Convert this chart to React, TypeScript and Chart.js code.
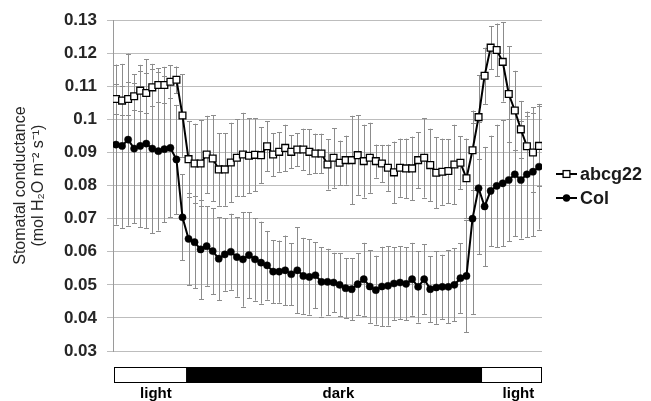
import { useEffect, useRef } from 'react';
import { Chart, registerables } from 'chart.js';

Chart.register(...registerables);

const FONT = '"Liberation Sans", Arial, Helvetica, sans-serif';

const seriesNames = ['abcg22', 'Col'];

const abcg22 = [
  0.1062, 0.1057, 0.1062, 0.107, 0.1087, 0.108, 0.1097, 0.1104, 0.1104, 0.1114,
  0.112, 0.1012, 0.088, 0.0867, 0.0867, 0.0894, 0.0882, 0.0849, 0.0849, 0.087,
  0.0884, 0.0894, 0.089, 0.0893, 0.0892, 0.0919, 0.0894, 0.0902, 0.0914, 0.0902,
  0.0909, 0.0909, 0.0902, 0.0897, 0.0897, 0.0864, 0.0884, 0.0869, 0.0877, 0.0877,
  0.0892, 0.0874, 0.0884, 0.0874, 0.0867, 0.0854, 0.084, 0.0854, 0.0852, 0.0852,
  0.0877, 0.0884, 0.0862, 0.0839, 0.0842, 0.0844, 0.0864, 0.0869, 0.0822, 0.0907,
  0.1007, 0.1132, 0.1217, 0.121, 0.1174, 0.1077, 0.1027, 0.097, 0.0919, 0.09,
  0.092,
];

const abcg22Err = [
  0.0045, 0.0045, 0.005, 0.004, 0.006, 0.006, 0.0055, 0.005, 0.0055, 0.005,
  0.004, 0.0125, 0.0114, 0.012, 0.013, 0.0117, 0.013, 0.011, 0.011, 0.012,
  0.0116, 0.0126, 0.0113, 0.011, 0.0085, 0.0075, 0.0065, 0.006, 0.007, 0.005,
  0.005, 0.0063, 0.0068, 0.006, 0.006, 0.0076, 0.009, 0.0067, 0.0074, 0.0134,
  0.012, 0.011, 0.0106, 0.005, 0.0056, 0.007, 0.0093, 0.0088, 0.009, 0.0096,
  0.0085, 0.012, 0.011, 0.0107, 0.01, 0.0097, 0.012, 0.008, 0.012, 0.012,
  0.0127, 0.0085, 0.0065, 0.008, 0.012, 0.0145, 0.012, 0.0086, 0.009, 0.012,
  0.012,
];

const col = [
  0.0924, 0.092, 0.0939, 0.0912, 0.092, 0.0927, 0.0912, 0.0904, 0.091, 0.0914,
  0.0879, 0.0704, 0.0639, 0.0629, 0.0607, 0.0617, 0.0602, 0.0579, 0.0592, 0.06,
  0.0584, 0.0577, 0.059, 0.0577, 0.0567, 0.0559, 0.054, 0.054, 0.0544, 0.0532,
  0.0544, 0.0527, 0.0524, 0.0529, 0.0509, 0.0509, 0.0507, 0.05, 0.049, 0.0487,
  0.0502, 0.0517, 0.0495, 0.0484, 0.0495, 0.0497, 0.0504, 0.0507, 0.0503, 0.0517,
  0.0494, 0.0517, 0.0487, 0.0492, 0.0494, 0.0494, 0.05, 0.052, 0.0527, 0.07,
  0.0792, 0.0737, 0.0784, 0.0799, 0.0807, 0.0817, 0.0834, 0.0817, 0.0834, 0.0842,
  0.0857,
];

const colErr = [
  0.0242, 0.0248, 0.026, 0.0225, 0.0245, 0.0255, 0.0256, 0.024, 0.022, 0.021,
  0.0165, 0.013, 0.014, 0.014, 0.015, 0.012, 0.013, 0.0125, 0.011, 0.0115,
  0.012, 0.0143, 0.013, 0.0125, 0.0124, 0.0104, 0.0095, 0.0094, 0.0105, 0.0094,
  0.013, 0.0115, 0.0114, 0.01, 0.0105, 0.01, 0.009, 0.0095, 0.009, 0.0094,
  0.0094, 0.011, 0.011, 0.0104, 0.012, 0.012, 0.011, 0.011, 0.011, 0.011,
  0.0108, 0.0105, 0.01, 0.011, 0.0097, 0.011, 0.011, 0.0105, 0.017, 0.0288,
  0.02, 0.018, 0.0167, 0.0185, 0.019, 0.0185, 0.0187, 0.0177, 0.019, 0.0195,
  0.019,
];

const yMin = 0.03;
const yMax = 0.13;
const yStep = 0.01;

// light / dark periods along the time axis (in sample-index units)
const periodLabels = ['light', 'dark', 'light'];
const periodFrom = [-0.34, 11.59, 60.6];
const periodTo = [11.59, 60.6, 70.5];
const periodLabelAt = [6.6, 36.8, 66.6];
const periodDark = [false, true, false];

const yTitle = ['Stomatal conductance', '(mol H\u2082O m\u207B\u00B2 s\u207B\u00B9)'];

const N = abcg22.length;

const errorBarPlugin = {
  id: 'errorBars',
  beforeDatasetsDraw(chart: any) {
    const ctx = chart.ctx;
    const y = chart.scales.y;
    const errs = [abcg22Err, colErr];
    ctx.save();
    ctx.strokeStyle = '#8c8c8c';
    ctx.lineWidth = 1;
    chart.data.datasets.forEach((ds: any, di: number) => {
      const meta = chart.getDatasetMeta(di);
      meta.data.forEach((pt: any, i: number) => {
        const v = ds.data[i].y;
        const e = errs[di][i];
        const x = Math.round(pt.x) + 0.5;
        const top = y.getPixelForValue(v + e);
        const bot = y.getPixelForValue(v - e);
        ctx.beginPath();
        ctx.moveTo(x, top);
        ctx.lineTo(x, bot);
        ctx.moveTo(x - 2.5, Math.round(top) + 0.5);
        ctx.lineTo(x + 2.5, Math.round(top) + 0.5);
        ctx.moveTo(x - 2.5, Math.round(bot) + 0.5);
        ctx.lineTo(x + 2.5, Math.round(bot) + 0.5);
        ctx.stroke();
      });
    });
    ctx.restore();
  },
};

const decorPlugin = {
  id: 'decor',
  afterDraw(chart: any) {
    const ctx = chart.ctx;
    const area = chart.chartArea;
    const xs = chart.scales.x;
    ctx.save();
    // y-axis title
    ctx.fillStyle = '#262626';
    ctx.font = `16px ${FONT}`;
    ctx.textAlign = 'center';
    ctx.textBaseline = 'middle';
    const cy = (area.top + area.bottom) / 2;
    [21, 39].forEach((tx, k) => {
      ctx.save();
      ctx.translate(tx, cy);
      ctx.rotate(-Math.PI / 2);
      ctx.fillText(yTitle[k], 0, 0);
      ctx.restore();
    });

    // legend
    const lx0 = area.right + 14;
    const lx1 = area.right + 35;
    const ly = [174, 198];
    ctx.font = `bold 18px ${FONT}`;
    ctx.textAlign = 'left';
    ctx.textBaseline = 'middle';
    seriesNames.forEach((name, k) => {
      ctx.strokeStyle = '#000';
      ctx.lineWidth = 2;
      ctx.beginPath();
      ctx.moveTo(lx0, ly[k]);
      ctx.lineTo(lx1, ly[k]);
      ctx.stroke();
      const mx = (lx0 + lx1) / 2;
      if (k === 0) {
        ctx.fillStyle = '#fff';
        ctx.lineWidth = 1.3;
        ctx.fillRect(mx - 3.4, ly[k] - 3.4, 6.8, 6.8);
        ctx.strokeRect(mx - 3.4, ly[k] - 3.4, 6.8, 6.8);
      } else {
        ctx.fillStyle = '#000';
        ctx.beginPath();
        ctx.arc(mx, ly[k], 3.7, 0, Math.PI * 2);
        ctx.fill();
      }
      ctx.fillStyle = '#1a1a1a';
      ctx.fillText(name, lx1 + 3, ly[k] + 1);
    });

    // light/dark bar
    const barTop = area.bottom + 16.5;
    const barH = 15;
    periodLabels.forEach((lab, k) => {
      const a = xs.getPixelForValue(periodFrom[k]);
      const b = xs.getPixelForValue(periodTo[k]);
      ctx.fillStyle = periodDark[k] ? '#000' : '#fff';
      ctx.fillRect(a, barTop, b - a, barH);
    });
    const a0 = Math.round(xs.getPixelForValue(periodFrom[0])) + 0.5;
    const a1 = Math.round(xs.getPixelForValue(periodTo[periodTo.length - 1])) - 0.5;
    ctx.strokeStyle = '#000';
    ctx.lineWidth = 1;
    ctx.strokeRect(a0, barTop, a1 - a0, barH);
    ctx.font = `bold 15px ${FONT}`;
    ctx.textAlign = 'center';
    ctx.textBaseline = 'alphabetic';
    ctx.fillStyle = '#000';
    periodLabels.forEach((lab, k) => {
      ctx.fillText(lab, xs.getPixelForValue(periodLabelAt[k]), barTop + barH + 15);
    });
    ctx.restore();
  },
};

export default function App() {
  const ref = useRef<HTMLCanvasElement | null>(null);
  useEffect(() => {
    if (!ref.current) return;
    const chart = new Chart(ref.current, {
      type: 'line',
      data: {
        datasets: [
          {
            label: seriesNames[0],
            data: abcg22.map((v, i) => ({ x: i, y: v })),
            borderColor: '#000',
            borderWidth: 2,
            pointStyle: 'rect',
            pointRadius: 4.8,
            pointBackgroundColor: '#fff',
            pointBorderColor: '#000',
            pointBorderWidth: 1.3,
            tension: 0,
          },
          {
            label: seriesNames[1],
            data: col.map((v, i) => ({ x: i, y: v })),
            borderColor: '#000',
            borderWidth: 2,
            pointStyle: 'circle',
            pointRadius: 3.6,
            pointBackgroundColor: '#000',
            pointBorderColor: '#000',
            pointBorderWidth: 0.5,
            tension: 0,
          },
        ],
      },
      options: {
        animation: false,
        responsive: false,
        devicePixelRatio: 1,
        layout: { padding: { top: 17, right: 109, bottom: 50, left: 0 } },
        plugins: { legend: { display: false }, tooltip: { enabled: false } },
        scales: {
          x: { type: 'linear', min: -0.5, max: N - 0.5, display: false },
          y: {
            min: yMin,
            max: yMax,
            afterFit: (s: any) => {
              s.width = 113;
            },
            ticks: {
              stepSize: yStep,
              color: '#262626',
              padding: 10,
              font: { family: FONT, size: 17, weight: 'bold' },
              callback: (v: any) => String(parseFloat(Number(v).toFixed(2))),
            },
            grid: { color: '#bdbdbd', lineWidth: 1, tickLength: 6, drawTicks: true },
            border: { color: '#9a9a9a', width: 1 },
          },
        },
      },
      plugins: [errorBarPlugin, decorPlugin],
    } as any);
    return () => chart.destroy();
  }, []);
  return (
    <div style={{ position: 'fixed', left: 0, top: 0, width: 651, height: 401, background: '#fff' }}>
      <canvas ref={ref} width={651} height={401} style={{ display: 'block' }} />
    </div>
  );
}
